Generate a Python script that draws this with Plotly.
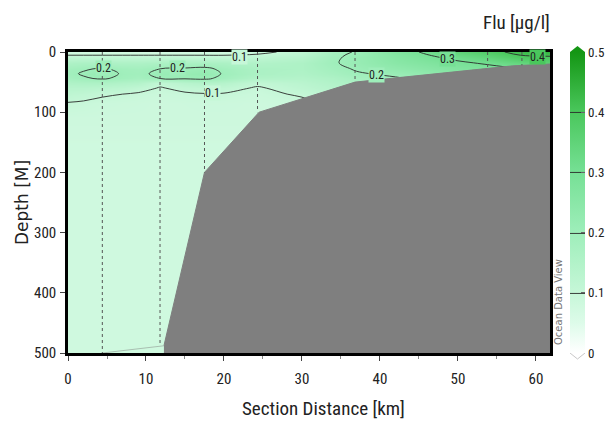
import plotly.graph_objects as go

# ---- section grid: fluorescence [µg/l] by distance (columns) and depth (rows)
dist_km = [0, 2, 4.4, 7, 9, 11.8, 15, 17.5, 20, 24.3, 30, 34, 37, 42, 46, 50, 54, 58, 61.8]
depth_m = [0, 8, 18, 28, 36, 44, 52, 60, 70, 85, 110, 160, 500]

flu_d0 = [0.07, 0.07, 0.07, 0.07, 0.07, 0.07, 0.07, 0.075, 0.075, 0.085, 0.12, 0.18, 0.205, 0.27, 0.31, 0.35, 0.38, 0.42, 0.44]
flu_d8 = [0.115, 0.115, 0.115, 0.115, 0.115, 0.115, 0.115, 0.112, 0.112, 0.118, 0.14, 0.19, 0.215, 0.26, 0.29, 0.32, 0.35, 0.39, 0.395]
flu_d18 = [0.16, 0.165, 0.165, 0.16, 0.16, 0.165, 0.17, 0.17, 0.165, 0.15, 0.16, 0.195, 0.215, 0.25, 0.27, 0.29, 0.31, 0.34, 0.36]
flu_d28 = [0.185, 0.195, 0.205, 0.19, 0.185, 0.2, 0.205, 0.21, 0.19, 0.165, 0.16, 0.185, 0.205, 0.23, 0.25, 0.27, 0.28, 0.30, 0.32]
flu_d36 = [0.19, 0.205, 0.22, 0.195, 0.19, 0.21, 0.215, 0.225, 0.195, 0.165, 0.155, 0.175, 0.195, 0.21, 0.23, 0.25, 0.26, 0.28, 0.30]
flu_d44 = [0.18, 0.195, 0.205, 0.19, 0.18, 0.2, 0.205, 0.21, 0.185, 0.15, 0.145, 0.16, 0.18, 0.195, 0.21, 0.23, 0.24, 0.26, 0.28]
flu_d52 = [0.155, 0.16, 0.16, 0.15, 0.145, 0.11, 0.135, 0.145, 0.14, 0.11, 0.13, 0.15, 0.165, 0.18, 0.19, 0.21, 0.22, 0.24, 0.26]
flu_d60 = [0.135, 0.135, 0.13, 0.125, 0.115, 0.097, 0.11, 0.115, 0.115, 0.095, 0.12, 0.14, 0.15, 0.16, 0.17, 0.19, 0.20, 0.22, 0.24]
flu_d70 = [0.12, 0.115, 0.105, 0.10, 0.095, 0.09, 0.095, 0.098, 0.097, 0.09, 0.105, 0.125, 0.135, 0.145, 0.155, 0.17, 0.18, 0.20, 0.22]
flu_d85 = [0.098, 0.095, 0.09, 0.088, 0.087, 0.085, 0.086, 0.087, 0.087, 0.085, 0.09, 0.11, 0.12, 0.13, 0.14, 0.15, 0.16, 0.18, 0.20]
flu_d110 = [0.085, 0.085, 0.085, 0.085, 0.085, 0.085, 0.085, 0.085, 0.085, 0.085, 0.085, 0.09, 0.10, 0.11, 0.12, 0.13, 0.14, 0.15, 0.16]
flu_d160 = [0.08, 0.08, 0.08, 0.08, 0.08, 0.08, 0.08, 0.08, 0.08, 0.08, 0.08, 0.08, 0.08, 0.08, 0.08, 0.08, 0.08, 0.08, 0.08]
flu_d500 = [0.08, 0.08, 0.08, 0.08, 0.08, 0.08, 0.08, 0.08, 0.08, 0.08, 0.08, 0.08, 0.08, 0.08, 0.08, 0.08, 0.08, 0.08, 0.08]

flu_grid = [flu_d0, flu_d8, flu_d18, flu_d28, flu_d36, flu_d44, flu_d52,
            flu_d60, flu_d70, flu_d85, flu_d110, flu_d160, flu_d500]

contour_levels = [0.1, 0.2, 0.3, 0.4]

# ---- seafloor profile
bathy_km = [12.3, 17.5, 24.5, 36.8, 57.0, 61.8, 61.8, 12.3]
bathy_depth = [488, 200, 100, 50, 23, 20, 500, 500]

# ---- CTD stations: position and bottom depth of each cast
station_km = [4.4, 11.8, 17.5, 24.3, 36.8, 53.8, 58.2]
station_bottom = [500, 488, 200, 100, 50, 27, 22]

cb_ticks = [0, 0.1, 0.2, 0.3, 0.4, 0.5]

# where the isoline labels sit: level, distance, depth window to search
label_spots = [
    (0.2, 4.6, 15, 30),
    (0.2, 14.0, 15, 30),
    (0.1, 18.5, 55, 80),
    (0.1, 22.0, 0, 12),
    (0.2, 39.6, 30, 46),
    (0.3, 48.7, 0, 20),
    (0.4, 60.2, 0, 10),
]
LABEL_MIN_DEPTH = 9  # keeps labels near the surface clear of the frame

NARROW = "Roboto Condensed, DejaVu Sans Condensed, Liberation Sans Narrow, Liberation Sans, sans-serif"
WIDE = "DejaVu Sans, Verdana, sans-serif"

ZMAX = 0.5
greens = [
    [0.0, "#ffffff"],
    [0.1, "#ddfbe9"],
    [0.2, "#c6f7d8"],
    [0.4, "#9eeeba"],
    [0.6, "#76e095"],
    [0.8, "#4ac75c"],
    [1.0, "#149614"],
]


def scale_color(v):
    """Colour of value v on the green scale, as rgb()."""
    f = min(max(v / ZMAX, 0), 1)
    for (f0, c0), (f1, c1) in zip(greens[:-1], greens[1:]):
        if f0 <= f <= f1:
            t = (f - f0) / (f1 - f0) if f1 > f0 else 0
            a = [int(c0[i:i + 2], 16) for i in (1, 3, 5)]
            b = [int(c1[i:i + 2], 16) for i in (1, 3, 5)]
            r = [round(a[k] + (b[k] - a[k]) * t) for k in range(3)]
            return f"rgb({r[0]},{r[1]},{r[2]})"
    return greens[-1][1]


def column_at(km):
    """Profile at distance km, linearly between neighbouring grid columns."""
    for i in range(len(dist_km) - 1):
        if dist_km[i] <= km <= dist_km[i + 1]:
            t = (km - dist_km[i]) / (dist_km[i + 1] - dist_km[i])
            return [row[i] * (1 - t) + row[i + 1] * t for row in flu_grid]
    return [row[-1] for row in flu_grid]


def level_depth(level, km, dlo, dhi):
    col = column_at(km)
    for j in range(len(depth_m) - 1):
        d0, d1 = depth_m[j], depth_m[j + 1]
        if d1 < dlo or d0 > dhi:
            continue
        v0, v1 = col[j], col[j + 1]
        if (v0 - level) * (v1 - level) <= 0 and v0 != v1:
            return d0 + (level - v0) / (v1 - v0) * (d1 - d0)
    return (dlo + dhi) / 2


W, H = 613, 430
ML, MR, MT, MB = 68, 63, 52, 77
PW, PH = W - ML - MR, H - MT - MB


def px_x(px):
    return (px - ML) / PW


def px_y(py):
    return (H - MB - py) / PH


CB_LEFT, CB_THICK = 570, 15

fig = go.Figure()

fig.add_trace(go.Contour(
    x=dist_km, y=depth_m, z=flu_grid,
    zmin=0, zmax=ZMAX, colorscale=greens,
    contours=dict(start=contour_levels[0], end=contour_levels[-1],
                  size=contour_levels[1] - contour_levels[0],
                  coloring="heatmap", showlabels=False),
    line=dict(color="#2a2a2a", width=0.9, smoothing=1.0),
    colorbar=dict(
        x=px_x(CB_LEFT), xanchor="left", xpad=0, ypad=0,
        y=0.5, yanchor="middle", len=1, lenmode="fraction",
        thickness=CB_THICK, outlinewidth=0,
        tickvals=cb_ticks, ticktext=[f"{t:g}" for t in cb_ticks],
        ticks="inside", ticklen=4, tickcolor="#666",
        tickfont=dict(family=NARROW, size=13, color="#222"),
    ),
    hoverinfo="skip",
))

fig.add_trace(go.Scatter(
    x=bathy_km, y=bathy_depth, fill="toself", fillcolor="#7f7f7f",
    mode="lines", line=dict(color="#7f7f7f", width=1),
    hoverinfo="skip", showlegend=False,
))

# faint seafloor edge on the shallow slope at the bottom left
fig.add_trace(go.Scatter(
    x=[station_km[0], bathy_km[0]], y=[station_bottom[0], bathy_depth[0]],
    mode="lines", line=dict(color="#a9bfb1", width=1),
    hoverinfo="skip", showlegend=False,
))

for sx, sb in zip(station_km, station_bottom):
    fig.add_trace(go.Scatter(
        x=[sx, sx], y=[0, sb], mode="lines",
        line=dict(color="#555555", width=1, dash="dot"),
        hoverinfo="skip", showlegend=False,
    ))

# isoline labels, set on the line and masking it with the local fill colour
for level, km, dlo, dhi in label_spots:
    fig.add_annotation(
        x=km, y=max(level_depth(level, km, dlo, dhi), LABEL_MIN_DEPTH),
        xref="x", yref="y",
        text=f"{level:g}", showarrow=False, xanchor="center", yanchor="middle",
        bgcolor=scale_color(level), borderpad=0,
        font=dict(family=NARROW, size=12, color="#222"),
    )

# pointed ends of the colour bar
cx0, cx1 = px_x(CB_LEFT), px_x(CB_LEFT + CB_THICK)
cxm = (cx0 + cx1) / 2
fig.add_shape(type="path", xref="paper", yref="paper",
              path=f"M {cx0} 1 L {cxm} {px_y(MT - 6)} L {cx1} 1 Z",
              fillcolor="#149614", line=dict(width=0))
fig.add_shape(type="path", xref="paper", yref="paper",
              path=f"M {cx0} 0 L {cxm} {px_y(H - MB + 6)} L {cx1} 0",
              fillcolor="#ffffff", line=dict(color="#c8c8c8", width=1))

axis_common = dict(
    showline=True, linecolor="black", linewidth=2.5, mirror=True,
    ticks="outside", ticklen=5, tickcolor="#444", showgrid=False, zeroline=False,
    tickfont=dict(family=NARROW, size=15, color="#222"),
)

fig.update_xaxes(range=[0, 61.8], tickvals=[0, 10, 20, 30, 40, 50, 60],
                 ticklabelstandoff=5,
                 minor=dict(tickvals=[5, 15, 25, 35, 45, 55], ticks="outside",
                            ticklen=3, tickcolor="#888"),
                 **axis_common)
fig.update_yaxes(range=[500, 0], tickvals=[0, 100, 200, 300, 400, 500],
                 ticklabelstandoff=1, **axis_common)

fig.add_annotation(text="Depth [M]", xref="paper", yref="paper",
                   x=px_x(22), y=px_y(203), textangle=-90, showarrow=False,
                   xanchor="center", yanchor="middle",
                   font=dict(family=WIDE, size=17, color="#222"))
fig.add_annotation(text="Section Distance [km]", xref="paper", yref="paper",
                   x=px_x(323), y=px_y(408), showarrow=False,
                   xanchor="center", yanchor="middle",
                   font=dict(family=NARROW, size=19, color="#222"))
fig.add_annotation(text="Flu [µg/l]", xref="paper", yref="paper",
                   x=px_x(516), y=px_y(22), showarrow=False,
                   xanchor="center", yanchor="middle",
                   font=dict(family=NARROW, size=19, color="#222"))
fig.add_annotation(text="Ocean Data View", xref="paper", yref="paper",
                   x=px_x(558), y=px_y(302), textangle=-90, showarrow=False,
                   xanchor="center", yanchor="middle",
                   font=dict(family=WIDE, size=10, color="#777"))

fig.update_layout(
    width=W, height=H,
    margin=dict(l=ML, r=MR, t=MT, b=MB, autoexpand=False),
    paper_bgcolor="white", plot_bgcolor="white",
    showlegend=False,
)

fig.write_html("out.html")
